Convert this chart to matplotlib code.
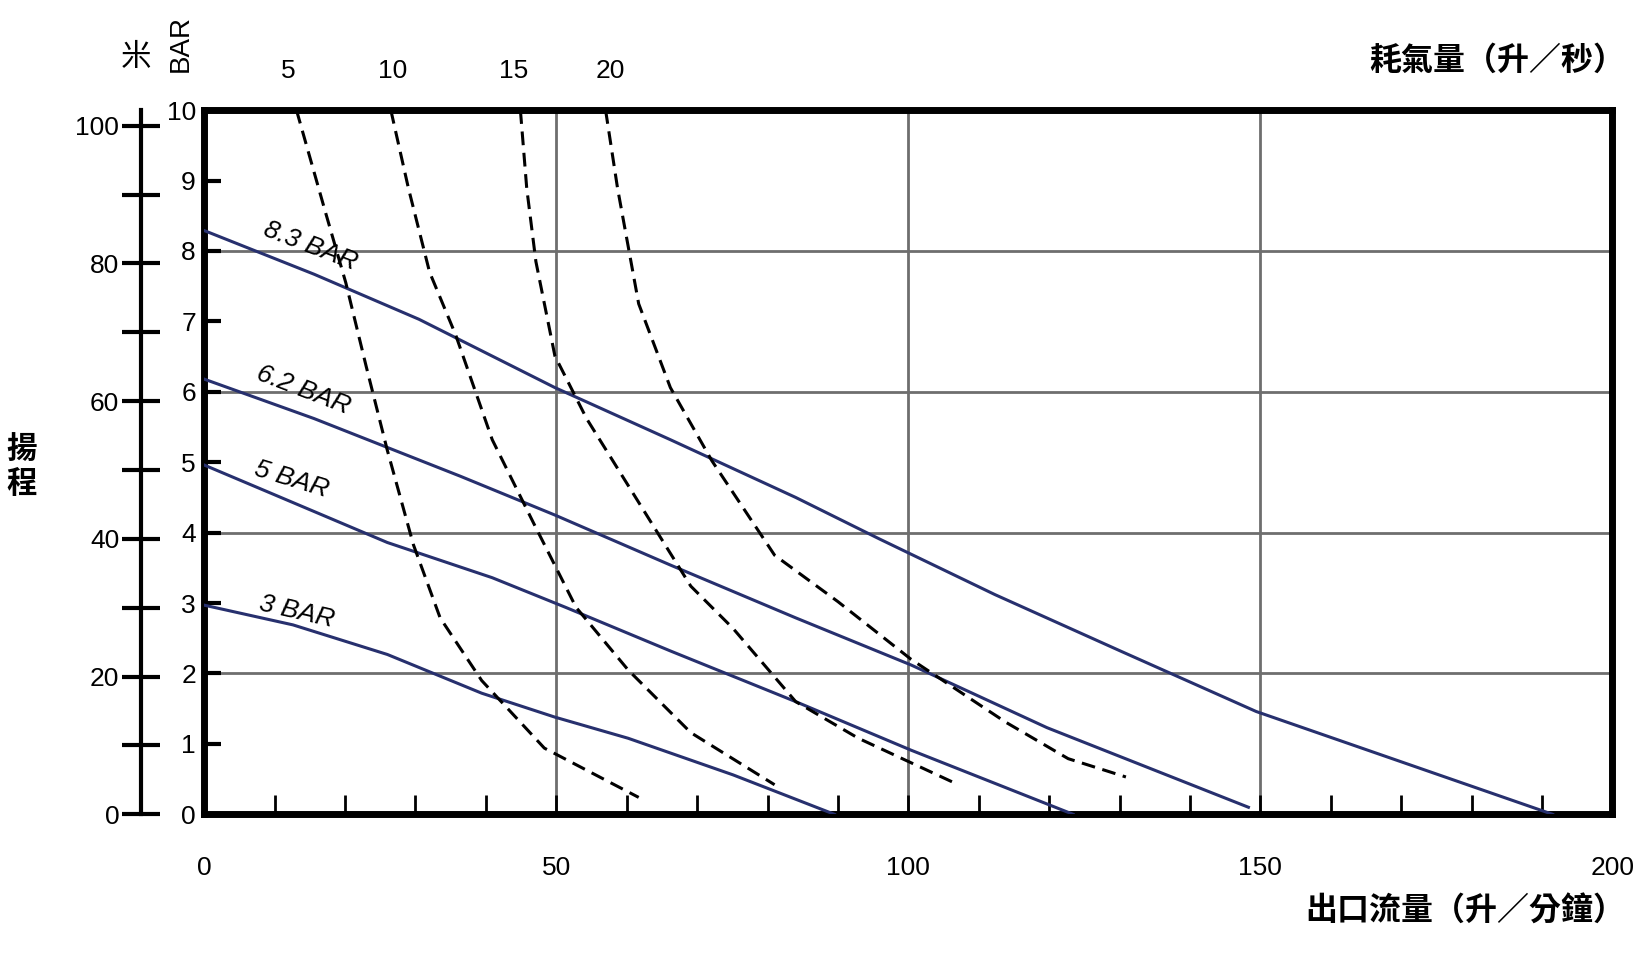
import matplotlib
matplotlib.use("Agg")
import matplotlib.pyplot as plt

plt.rcParams['font.family'] = ['Liberation Sans Narrow', 'Liberation Sans', 'DejaVu Sans']
CJK = ['Noto Sans CJK TC', 'DejaVu Sans']

# pressure curves (flow L/min, head BAR)
p83_x = [0, 15.6, 30.5, 49.8, 66.2, 84.0, 95.9, 112.3, 130.1, 149.4, 191.5]
p83_y = [8.29, 7.67, 7.03, 6.06, 5.32, 4.5, 3.91, 3.12, 2.32, 1.46, 0.0]
p62_x = [0, 15.6, 36.4, 49.8, 66.2, 84.0, 100.4, 119.7, 148.3]
p62_y = [6.18, 5.62, 4.80, 4.25, 3.54, 2.79, 2.12, 1.23, 0.10]
p5_x = [0, 9.7, 26.0, 40.9, 51.3, 66.2, 84.0, 100.4, 123.4]
p5_y = [4.96, 4.55, 3.86, 3.36, 2.94, 2.32, 1.60, 0.91, 0.0]
p3_x = [0, 12.6, 26.0, 39.4, 49.8, 60.2, 75.1, 89.5]
p3_y = [2.97, 2.69, 2.27, 1.72, 1.38, 1.08, 0.56, 0.0]

# air consumption curves (L/s)
a5_x = [13.1, 17.1, 20.1, 23.0, 26.0, 29.7, 33.5, 39.4, 48.3, 61.7]
a5_y = [10, 8.59, 7.55, 6.36, 5.17, 3.83, 2.79, 1.90, 0.94, 0.24]
a10_x = [26.5, 29.0, 32.0, 35.7, 40.9, 46.8, 52.8, 60.2, 69.1, 81.0]
a10_y = [10, 8.89, 7.70, 6.81, 5.32, 4.13, 2.94, 2.05, 1.16, 0.42]
a15_x = [44.9, 45.8, 47.1, 49.8, 54.3, 61.7, 69.1, 75.1, 84.0, 92.9, 107.1]
a15_y = [10, 8.89, 7.85, 6.51, 5.62, 4.43, 3.24, 2.64, 1.60, 1.08, 0.42]
a20_x = [57.0, 58.7, 61.7, 66.2, 72.1, 81.0, 90.0, 100.4, 113.8, 122.7, 130.9]
a20_y = [10, 8.89, 7.25, 6.06, 5.02, 3.68, 3.02, 2.20, 1.31, 0.79, 0.53]

pressure_labels = ['8.3 BAR', '6.2 BAR', '5 BAR', '3 BAR']
air_labels = ['5', '10', '15', '20']
air_label_x = [11.9, 26.8, 44.0, 57.7]

fig = plt.figure(figsize=(16.42, 9.58), dpi=100)
L, R, B, T = 0.1244, 0.982, 0.150, 0.885
ax = fig.add_axes([L, B, R - L, T - B])
ax.set_xlim(0, 200)
ax.set_ylim(0, 10)
navy = '#27306e'
for xs, ys in [(p83_x, p83_y), (p62_x, p62_y), (p5_x, p5_y), (p3_x, p3_y)]:
    ax.plot(xs, ys, color=navy, lw=2.2, zorder=3, solid_joinstyle='round')
for xs, ys in [(a5_x, a5_y), (a10_x, a10_y), (a15_x, a15_y), (a20_x, a20_y)]:
    ax.plot(xs, ys, color='black', lw=2.2, ls=(0, (4.5, 2.5)), zorder=3, clip_on=False)

for x in [50, 100, 150]:
    ax.axvline(x, color='#6e6e6e', lw=2, zorder=1)
for y in [2, 4, 6, 8]:
    ax.axhline(y, color='#6e6e6e', lw=2, zorder=1)

for s in ax.spines.values():
    s.set_linewidth(5)
ax.set_xticks([0, 50, 100, 150, 200])
ax.set_xticks(range(0, 201, 10), minor=True)
ax.tick_params(axis='x', which='both', direction='in', length=14, width=2, labelsize=19, pad=30)
ax.set_yticks(range(0, 11))
ax.tick_params(axis='y', direction='in', length=12, width=3, labelsize=19, pad=6)
ax.tick_params(axis='y', which='minor', left=False)

lab_pos = [(8.0, 8.07, -21), (7.0, 6.02, -21), (6.7, 4.75, -17), (7.5, 2.88, -13)]
for txt, (x, y, r) in zip(pressure_labels, lab_pos):
    ax.text(x, y, txt, fontsize=19, rotation=r, style='italic', ha='left', va='center', zorder=4)
for txt, x in zip(air_labels, air_label_x):
    ax.text(x, 10.55, txt, fontsize=19, ha='center', va='center')

# meters axis
axm = fig.add_axes([0.0861, B, 0.0001, T - B])
axm.set_ylim(0, 102.25)
axm.set_xticks([])
for k in ['top', 'right', 'bottom']:
    axm.spines[k].set_visible(False)
axm.spines['left'].set_linewidth(3)
axm.set_yticks(range(0, 101, 10))
axm.set_yticklabels([str(v) if v % 20 == 0 else '' for v in range(0, 101, 10)])
axm.tick_params(axis='y', direction='inout', length=28, width=3, labelsize=19, pad=2)

fig.text(0.083, 0.94, '米', fontsize=22, family=CJK, ha='center', va='center')
fig.text(0.110, 0.955, 'BAR', fontsize=20, rotation=90, ha='center', va='center', family=['Liberation Sans', 'DejaVu Sans'])
fig.text(0.013, 0.513, '揚\n程', fontsize=22, weight='bold', family=CJK, ha='center', va='center', linespacing=1.1)
fig.text(0.99, 0.936, '耗氣量（升／秒）', fontsize=23, weight='bold', family=CJK, ha='right', va='center')
fig.text(0.99, 0.048, '出口流量（升／分鐘）', fontsize=23, weight='bold', family=CJK, ha='right', va='center')

fig.savefig('out.png', dpi=100, facecolor='white')
